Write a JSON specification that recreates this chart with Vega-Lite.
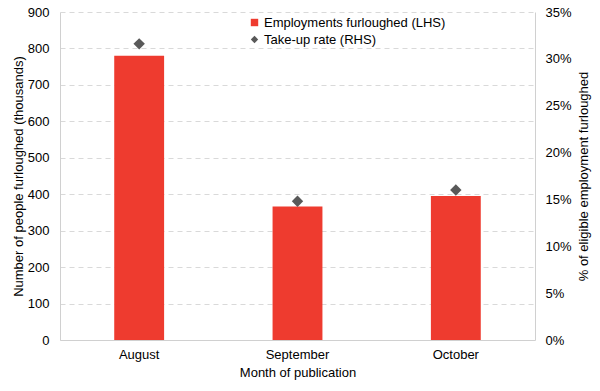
{
  "$schema": "https://vega.github.io/schema/vega-lite/v6.json",
  "width": 475,
  "height": 328,
  "autosize": {"type": "none"},
  "padding": {"left": 60, "top": 12, "right": 65, "bottom": 51},
  "config": {
    "view": {"stroke": null},
    "font": "Liberation Sans",
    "axis": {
      "labelFontSize": 13,
      "titleFontSize": 13,
      "titleFontWeight": "normal",
      "labelColor": "#000000",
      "titleColor": "#000000",
      "ticks": false,
      "domainColor": "#d0d0d0"
    }
  },
  "data": {
    "values": [
      {"month": "August", "series": "Employments furloughed (LHS)", "value": 780},
      {"month": "September", "series": "Employments furloughed (LHS)", "value": 366},
      {"month": "October", "series": "Employments furloughed (LHS)", "value": 395},
      {"month": "August", "series": "Take-up rate (RHS)", "value": 0.316},
      {"month": "September", "series": "Take-up rate (RHS)", "value": 0.148},
      {"month": "October", "series": "Take-up rate (RHS)", "value": 0.160}
    ]
  },
  "encoding": {
    "x": {
      "field": "month",
      "type": "nominal",
      "sort": ["August", "September", "October"],
      "scale": {"paddingInner": 0.685, "paddingOuter": 0.3425},
      "axis": {"title": "Month of publication", "labelAngle": 0, "labelPadding": 8, "titlePadding": 5}
    }
  },
  "layer": [
    {
      "transform": [{"filter": "datum.series === 'Employments furloughed (LHS)'"}],
      "mark": {"type": "bar"},
      "encoding": {
        "y": {
          "field": "value",
          "type": "quantitative",
          "scale": {"domain": [0, 900]},
          "axis": {
            "title": "Number of people furloughed (thousands)",
            "values": [0, 100, 200, 300, 400, 500, 600, 700, 800, 900],
            "grid": true,
            "gridDash": [5, 4],
            "gridColor": "#d9d9d9",
            "labelPadding": 11,
            "titlePadding": 2
          }
        },
        "color": {
          "field": "series",
          "type": "nominal",
          "scale": {"domain": ["Employments furloughed (LHS)", "Take-up rate (RHS)"], "range": ["#EE3B2F", "#595959"]},
          "legend": {
            "title": null,
            "orient": "none",
            "legendX": 188,
            "legendY": 4,
            "labelFontSize": 13,
            "labelColor": "#000000",
            "labelLimit": 0,
            "labelOffset": 3,
            "symbolSize": 55,
            "rowPadding": 2,
            "encode": {
              "symbols": {
                "update": {
                  "shape": {"signal": "datum.value === 'Take-up rate (RHS)' ? 'diamond' : 'square'"},
                  "fill": {"signal": "datum.value === 'Take-up rate (RHS)' ? '#595959' : '#EE3B2F'"},
                  "stroke": {"value": "transparent"},
                  "opacity": {"value": 1}
                }
              }
            }
          }
        }
      }
    },
    {
      "transform": [{"filter": "datum.series === 'Take-up rate (RHS)'"}],
      "mark": {"type": "point", "shape": "diamond", "filled": true, "size": 130, "opacity": 1},
      "encoding": {
        "y": {
          "field": "value",
          "type": "quantitative",
          "scale": {"domain": [0, 0.35]},
          "axis": {
            "orient": "right",
            "title": "% of eligible employment furloughed",
            "titleAngle": 270,
            "titleBaseline": "middle",
            "titleAlign": "center",
            "titleX": 48,
            "titleY": 164,
            "values": [0, 0.05, 0.1, 0.15, 0.2, 0.25, 0.3, 0.35],
            "format": ".0%",
            "grid": false,
            "labelPadding": 10
          }
        },
        "color": {"field": "series", "type": "nominal"}
      }
    }
  ],
  "resolve": {"scale": {"y": "independent"}}
}
